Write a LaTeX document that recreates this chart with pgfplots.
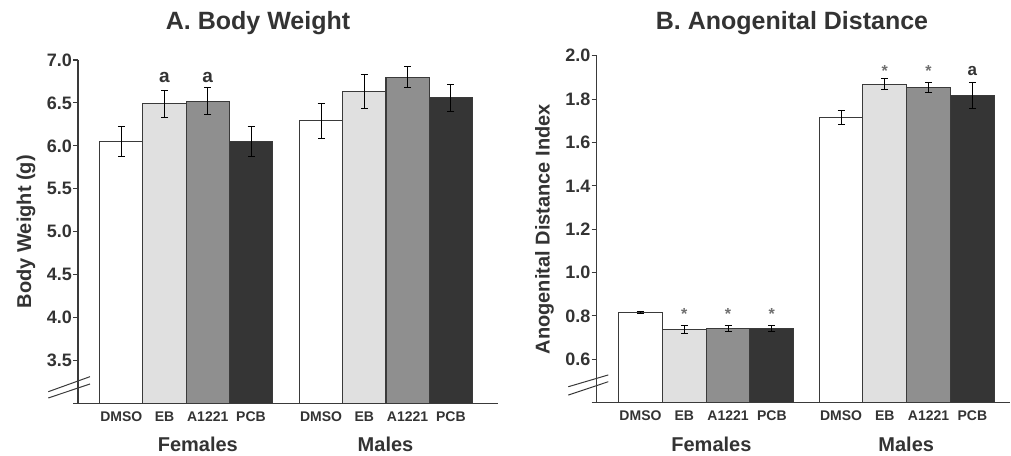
\documentclass[border=0pt]{standalone}
\usepackage{fontspec}
\setmainfont{Liberation Sans}
\usepackage{pgfplots}
\pgfplotsset{compat=1.18}
\definecolor{txt}{HTML}{333333}
\definecolor{edge}{HTML}{3A3A3A}
\definecolor{cDMSO}{HTML}{FFFFFF}
\definecolor{cEB}{HTML}{E0E0E0}
\definecolor{cA}{HTML}{8F8F8F}
\definecolor{cPCB}{HTML}{353535}
\definecolor{star}{HTML}{707070}
\pgfplotsset{
 panel/.style={
  scale only axis, anchor=south west,
  axis lines=left, axis line style={-, line width=1.1pt, edge},
  clip mode=individual,
  ybar, bar shift=0pt, bar width=1,
  tick align=outside, major tick length=5pt,
  ytick style={line width=1.1pt, edge},
  x tick style={draw=none},
  /pgf/number format/assume math mode=true,
  yticklabel style={font=\fontsize{18}{18}\selectfont\bfseries, text=txt, inner sep=0pt, xshift=-1pt,
     /pgf/number format/.cd, fixed, fixed zerofill, precision=1},
  xticklabel style={font=\fontsize{14}{14}\selectfont\bfseries, text=txt, anchor=base, yshift=-13pt},
  ylabel style={font=\fontsize{20}{20}\selectfont\bfseries, text=txt},
  title style={font=\fontsize{25}{25}\selectfont\bfseries, text=txt, anchor=base},
  error bars/y dir=both, error bars/y explicit,
  error bars/error mark options={rotate=90, mark size=3.5pt, line width=1pt, black},
  error bars/error bar style={line width=1pt, black},
  extra y tick labels={},
 },
}
\tikzset{
 grp/.style={font=\fontsize{20}{20}\selectfont\bfseries, text=txt, anchor=base},
 ann/.style={font=\fontsize{19}{19}\selectfont\bfseries, text=txt, anchor=center},
 st/.style={font=\fontsize{16}{16}\selectfont\bfseries, text=star, anchor=north, inner sep=0pt},
}
\begin{document}
\begin{tikzpicture}
\path[use as bounding box] (0,0) rectangle (1011pt,455pt);
% ---------------- Panel A ----------------
\begin{axis}[panel, at={(78pt,51.7pt)}, width=420pt, height=343.3pt,
  xmin=0, xmax=9.71, ymin=3, ymax=7,
  ytick={3.5,4.0,4.5,5.0,5.5,6.0,6.5,7.0}, extra y ticks={3},
  xtick={1,2,3,4,5.62,6.62,7.62,8.62},
  xticklabels={DMSO,EB,A1221,PCB,DMSO,EB,A1221,PCB},
  ylabel={Body Weight (g)}, ylabel style={xshift=0pt, yshift=-2pt},
  title={A. Body Weight}, title style={at={(0.4286,1)}, yshift=24pt}]
\addplot[draw=edge, line width=1.1pt, fill=cDMSO] coordinates {(1,6.05) +- (0,0.17) (5.62,6.29) +- (0,0.20)};
\addplot[draw=edge, line width=1.1pt, fill=cEB] coordinates {(2,6.49) +- (0,0.16) (6.62,6.63) +- (0,0.20)};
\addplot[draw=edge, line width=1.1pt, fill=cA] coordinates {(3,6.52) +- (0,0.16) (7.62,6.80) +- (0,0.12)};
\addplot[draw=edge, line width=1.1pt, fill=cPCB] coordinates {(4,6.05) +- (0,0.18) (8.62,6.56) +- (0,0.16)};
\node[ann] at (axis cs:2,6.80) {a};
\node[ann] at (axis cs:3,6.80) {a};
\node[grp, yshift=-48.4pt] at (axis cs:2.77,3) {Females};
\node[grp, yshift=-48.4pt] at (axis cs:7.11,3) {Males};
\draw[edge, line width=1pt] (rel axis cs:-0.0707,0.0338) -- (rel axis cs:0.0286,0.0776);
\draw[edge, line width=1pt] (rel axis cs:-0.0707,0.0155) -- (rel axis cs:0.0286,0.0563);
\end{axis}
% ---------------- Panel B ----------------
\begin{axis}[panel, at={(596.7pt,52.3pt)}, width=413.3pt, height=347pt,
  xmin=0, xmax=9.44, ymin=0.4, ymax=2.0,
  ytick={0.6,0.8,1.0,1.2,1.4,1.6,1.8,2.0}, extra y ticks={0.4},
  xtick={1,2,3,4,5.58,6.58,7.58,8.58},
  xticklabels={DMSO,EB,A1221,PCB,DMSO,EB,A1221,PCB},
  ylabel={Anogenital Distance Index}, ylabel style={yshift=-2pt},
  title={B. Anogenital Distance}, title style={at={(0.4725,1)}, yshift=19.7pt}]
\addplot[draw=edge, line width=1.1pt, fill=cDMSO] coordinates {(1,0.816) +- (0,0.004) (5.58,1.714) +- (0,0.032)};
\addplot[draw=edge, line width=1.1pt, fill=cEB] coordinates {(2,0.737) +- (0,0.017) (6.58,1.869) +- (0,0.025)};
\addplot[draw=edge, line width=1.1pt, fill=cA] coordinates {(3,0.742) +- (0,0.014) (7.58,1.853) +- (0,0.023)};
\addplot[draw=edge, line width=1.1pt, fill=cPCB] coordinates {(4,0.742) +- (0,0.014) (8.58,1.815) +- (0,0.06)};
\node[st] at (axis cs:2,0.836) {*};
\node[st] at (axis cs:3,0.836) {*};
\node[st] at (axis cs:4,0.836) {*};
\node[st] at (axis cs:6.58,1.956) {*};
\node[st] at (axis cs:7.58,1.956) {*};
\node[ann, font=\fontsize{17}{17}\selectfont\bfseries] at (axis cs:8.58,1.93) {a};
\node[grp, yshift=-49pt] at (axis cs:2.62,0.4) {Females};
\node[grp, yshift=-49pt] at (axis cs:7.07,0.4) {Males};
\draw[edge, line width=1pt] (rel axis cs:-0.0687,0.046) -- (rel axis cs:0.028,0.08);
\draw[edge, line width=1pt] (rel axis cs:-0.0687,0.022) -- (rel axis cs:0.028,0.0605);
\end{axis}
\end{tikzpicture}
\end{document}
